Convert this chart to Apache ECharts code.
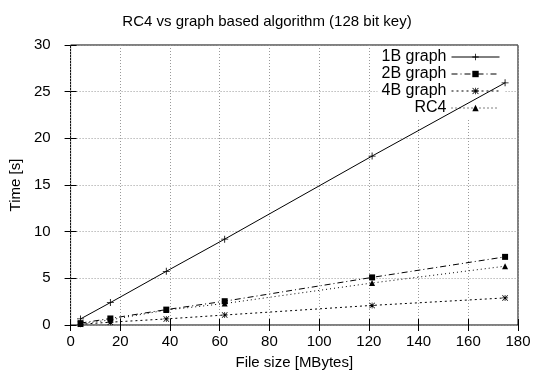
<!DOCTYPE html>
<html>
<head>
<meta charset="utf-8">
<script src="https://cdn.jsdelivr.net/npm/echarts@6/dist/echarts.min.js"></script>
<style>
  html, body { margin: 0; padding: 0; background: #fff; }
  #chart { width: 534px; height: 377px; }
</style>
</head>
<body>
<div id="chart"></div>
<script>
// file sizes in MBytes
const fileSizes = [4, 16, 38.5, 62, 121.3, 174.8];

// times in seconds
const graph1B = [0.65, 2.4, 5.75, 9.2, 18.1, 25.95];
const graph2B = [0.2, 0.7, 1.65, 2.55, 5.1, 7.3];
const graph4B = [0.08, 0.3, 0.65, 1.07, 2.1, 2.9];
const rc4 = [0.12, 0.55, 1.6, 2.3, 4.5, 6.3];

const FONT = 'Liberation Sans';

const plusPath = 'path://M-0.12,-1h0.24v0.88h0.88v0.24h-0.88v0.88h-0.24v-0.88h-0.88v-0.24h0.88z';
const starPath = plusPath +
  'M-1,-0.83L-0.83,-1L1,0.83L0.83,1Z M0.83,-1L1,-0.83L-0.83,1L-1,0.83Z';

const chart = echarts.init(document.getElementById('chart'));

function mkSeries(name, values, symbol, size, dash) {
  return {
    name: name,
    type: 'line',
    z: 3,
    data: fileSizes.map((x, i) => [x, values[i]]),
    symbol: symbol,
    symbolSize: size,
    showAllSymbol: true,
    itemStyle: { color: '#000' },
    lineStyle: { color: '#000', width: 1, type: dash },
    animation: false
  };
}

const tickStyle = { inside: true, length: 6, lineStyle: { color: '#000' } };
const labelFont = { fontFamily: FONT, fontSize: 15, color: '#000' };

chart.setOption({
  backgroundColor: '#fff',
  title: {
    text: 'RC4 vs graph based algorithm (128 bit key)',
    left: 'center',
    top: 9,
    textStyle: { fontFamily: FONT, fontSize: 15, fontWeight: 'normal', color: '#000' }
  },
  grid: {
    left: 68, right: 16, top: 45, bottom: 52,
    show: true, borderColor: '#000', borderWidth: 1
  },
  legend: {
    orient: 'vertical',
    right: 30,
    top: 47,
    z: 1,
    align: 'right',
    itemWidth: 48,
    itemHeight: 8,
    itemGap: 1,
    padding: [2, 4],
    backgroundColor: '#fff',
    lineStyle: { width: 1 },
    textStyle: { fontFamily: FONT, fontSize: 16, color: '#000', width: 90, align: 'right' },
    data: ['1B graph', '2B graph', '4B graph', 'RC4']
  },
  xAxis: [{
    type: 'value', min: 0, max: 180, interval: 20,
    name: 'File size [MBytes]', nameLocation: 'middle', nameGap: 30,
    nameTextStyle: labelFont,
    axisLine: { show: false },
    axisTick: tickStyle,
    axisLabel: Object.assign({ margin: 9 }, labelFont),
    splitLine: { show: true, lineStyle: { color: '#999', type: [1, 2] } }
  }, {
    type: 'value', min: 0, max: 180, interval: 20, position: 'top',
    axisLine: { show: false }, axisTick: tickStyle,
    axisLabel: { show: false }, splitLine: { show: false }
  }],
  yAxis: [{
    type: 'value', min: 0, max: 30, interval: 5,
    name: 'Time [s]', nameLocation: 'middle', nameGap: 38, nameRotate: 90,
    nameTextStyle: labelFont,
    axisLine: { show: false },
    axisTick: tickStyle,
    axisLabel: Object.assign({ margin: 20 }, labelFont),
    splitLine: { show: true, lineStyle: { color: '#999', type: [1, 2] } }
  }, {
    type: 'value', min: 0, max: 30, interval: 5, position: 'right',
    axisLine: { show: false }, axisTick: tickStyle,
    axisLabel: { show: false }, splitLine: { show: false }
  }],
  series: [
    mkSeries('1B graph', graph1B, plusPath, 7, 'solid'),
    mkSeries('2B graph', graph2B, 'rect', 6, [6, 3, 1, 3]),
    mkSeries('4B graph', graph4B, starPath, 6, [2, 3]),
    mkSeries('RC4', rc4, 'triangle', 6, [1, 3])
  ]
});
</script>
</body>
</html>
